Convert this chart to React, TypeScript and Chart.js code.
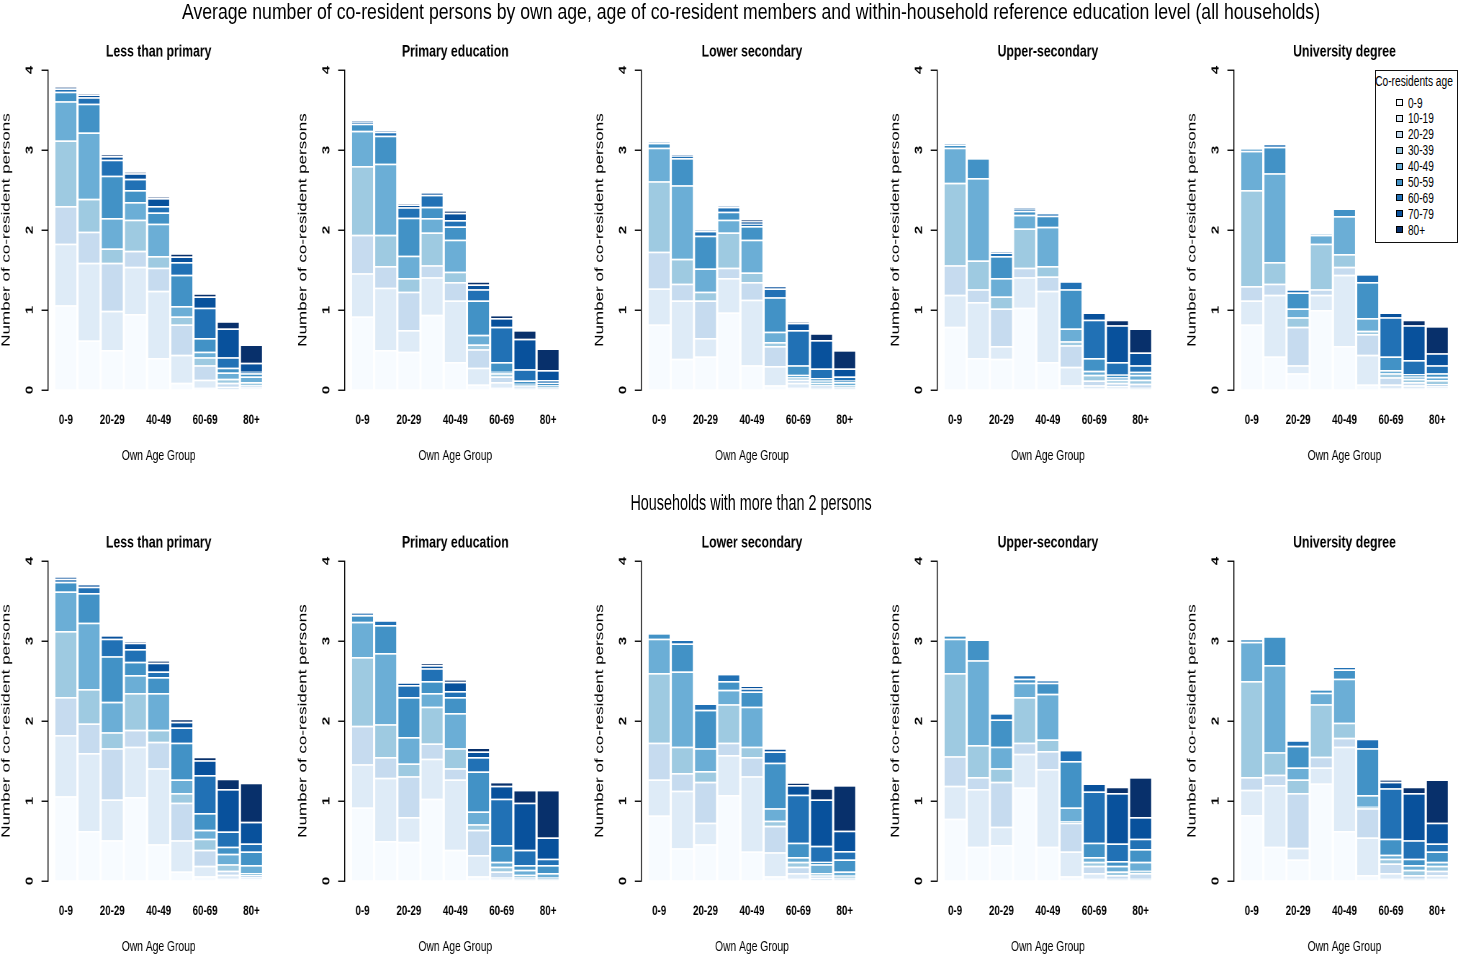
import React, { useEffect, useLayoutEffect, useRef } from 'react';
import { Chart, registerables } from 'chart.js';

Chart.register(...registerables);

const FONT = "'Liberation Sans', Arial, 'DejaVu Sans', sans-serif";
Chart.defaults.font.family = FONT;

// ---------- data ----------
const ownAgeGroups = ['0-9', '10-19', '20-29', '30-39', '40-49', '50-59', '60-69', '70-79', '80+'];
const coResidentAges = ['0-9', '10-19', '20-29', '30-39', '40-49', '50-59', '60-69', '70-79', '80+'];
const educationLevels = ['Less than primary', 'Primary education', 'Lower secondary', 'Upper-secondary', 'University degree'];
const blues = ['#F7FBFF', '#DEEBF7', '#C6DBEF', '#9ECAE1', '#6BAED6', '#4292C6', '#2171B5', '#08519C', '#08306B'];
const yTicks = [0, 1, 2, 3, 4];

const mainTitle = 'Average number of co-resident persons by own age, age of co-resident members and within-household reference education level (all households)';
const subTitle = 'Households with more than 2 persons';
const xTitle = 'Own Age Group';
const yTitle = 'Number of co-resident persons';
const legendTitle = 'Co-residents age';

// each row = one own-age bar; entries = co-resident age groups 0-9 ... 80+
const allLessPrimary = [
  [1.06, 0.77, 0.47, 0.82, 0.49, 0.12, 0.04, 0.01, 0.01],
  [0.62, 0.97, 0.39, 0.41, 0.83, 0.36, 0.08, 0.03, 0.01],
  [0.50, 0.49, 0.60, 0.18, 0.38, 0.53, 0.20, 0.045, 0.015],
  [0.95, 0.59, 0.20, 0.39, 0.22, 0.15, 0.14, 0.07, 0.01],
  [0.40, 0.84, 0.29, 0.145, 0.405, 0.14, 0.08, 0.10, 0.01],
  [0.09, 0.35, 0.38, 0.10, 0.13, 0.39, 0.16, 0.07, 0.04],
  [0.03, 0.10, 0.18, 0.10, 0.07, 0.17, 0.38, 0.14, 0.04],
  [0.01, 0.03, 0.05, 0.05, 0.08, 0.06, 0.13, 0.36, 0.09],
  [0.02, 0.02, 0.02, 0.04, 0.07, 0.04, 0.02, 0.11, 0.23],
];
const allPrimary = [
  [0.92, 0.54, 0.48, 0.86, 0.44, 0.09, 0.02, 0.01, 0.0],
  [0.50, 0.78, 0.27, 0.39, 0.89, 0.35, 0.05, 0.01, 0.0],
  [0.48, 0.27, 0.48, 0.17, 0.28, 0.475, 0.13, 0.03, 0.01],
  [0.94, 0.47, 0.15, 0.41, 0.18, 0.14, 0.15, 0.03, 0.0],
  [0.35, 0.77, 0.23, 0.13, 0.40, 0.165, 0.08, 0.09, 0.03],
  [0.07, 0.21, 0.23, 0.06, 0.12, 0.43, 0.14, 0.06, 0.04],
  [0.03, 0.07, 0.07, 0.04, 0.02, 0.12, 0.44, 0.11, 0.04],
  [0.01, 0.02, 0.02, 0.01, 0.02, 0.04, 0.14, 0.38, 0.11],
  [0.01, 0.01, 0.01, 0.01, 0.02, 0.03, 0.035, 0.125, 0.27],
];
const allLowerSecondary = [
  [0.82, 0.45, 0.46, 0.88, 0.42, 0.06, 0.01, 0.0, 0.0],
  [0.39, 0.73, 0.21, 0.31, 0.92, 0.34, 0.03, 0.01, 0.0],
  [0.42, 0.23, 0.47, 0.11, 0.29, 0.41, 0.06, 0.01, 0.0],
  [0.97, 0.43, 0.13, 0.44, 0.16, 0.10, 0.06, 0.01, 0.0],
  [0.31, 0.82, 0.22, 0.12, 0.41, 0.17, 0.03, 0.03, 0.02],
  [0.06, 0.24, 0.25, 0.05, 0.13, 0.43, 0.11, 0.03, 0.0],
  [0.03, 0.06, 0.04, 0.03, 0.03, 0.12, 0.44, 0.09, 0.01],
  [0.01, 0.02, 0.03, 0.03, 0.03, 0.03, 0.12, 0.355, 0.085],
  [0.01, 0.01, 0.02, 0.02, 0.04, 0.02, 0.05, 0.10, 0.23],
];
const allUpperSecondary = [
  [0.79, 0.40, 0.37, 1.03, 0.44, 0.04, 0.01, 0.0, 0.0],
  [0.40, 0.70, 0.16, 0.36, 1.03, 0.25, 0.0, 0.0, 0.0],
  [0.39, 0.16, 0.47, 0.15, 0.23, 0.275, 0.045, 0.01, 0.0],
  [1.03, 0.38, 0.12, 0.49, 0.17, 0.05, 0.03, 0.01, 0.0],
  [0.35, 0.89, 0.18, 0.13, 0.49, 0.14, 0.03, 0.0, 0.0],
  [0.06, 0.23, 0.27, 0.05, 0.16, 0.49, 0.10, 0.0, 0.0],
  [0.02, 0.04, 0.06, 0.07, 0.05, 0.16, 0.48, 0.09, 0.0],
  [0.02, 0.03, 0.04, 0.04, 0.03, 0.035, 0.155, 0.46, 0.07],
  [0.01, 0.02, 0.05, 0.05, 0.06, 0.04, 0.08, 0.16, 0.30],
];
const allUniversity = [
  [0.82, 0.30, 0.18, 1.20, 0.49, 0.03, 0.0, 0.0, 0.0],
  [0.42, 0.77, 0.14, 0.27, 1.11, 0.33, 0.04, 0.0, 0.0],
  [0.21, 0.10, 0.48, 0.12, 0.11, 0.20, 0.04, 0.0, 0.0],
  [1.00, 0.19, 0.07, 0.57, 0.11, 0.01, 0.0, 0.0, 0.0],
  [0.55, 0.89, 0.10, 0.16, 0.475, 0.095, 0.0, 0.0, 0.0],
  [0.07, 0.37, 0.26, 0.04, 0.16, 0.45, 0.10, 0.0, 0.0],
  [0.02, 0.05, 0.09, 0.05, 0.04, 0.17, 0.49, 0.06, 0.0],
  [0.02, 0.04, 0.04, 0.04, 0.03, 0.03, 0.175, 0.435, 0.07],
  [0.03, 0.02, 0.025, 0.05, 0.04, 0.045, 0.10, 0.15, 0.34],
];

const bigLessPrimary = [
  [1.06, 0.765, 0.475, 0.825, 0.495, 0.12, 0.04, 0.02, 0.0],
  [0.625, 0.975, 0.37, 0.43, 0.83, 0.37, 0.08, 0.03, 0.0],
  [0.51, 0.51, 0.64, 0.20, 0.38, 0.57, 0.22, 0.045, 0.0],
  [1.05, 0.63, 0.21, 0.46, 0.225, 0.165, 0.16, 0.08, 0.01],
  [0.46, 0.95, 0.33, 0.15, 0.46, 0.20, 0.07, 0.11, 0.025],
  [0.12, 0.39, 0.47, 0.12, 0.17, 0.46, 0.19, 0.07, 0.04],
  [0.06, 0.13, 0.20, 0.14, 0.11, 0.21, 0.475, 0.185, 0.045],
  [0.03, 0.05, 0.05, 0.08, 0.13, 0.09, 0.19, 0.53, 0.13],
  [0.03, 0.02, 0.025, 0.025, 0.10, 0.17, 0.10, 0.27, 0.49],
];
const bigPrimary = [
  [0.92, 0.54, 0.48, 0.86, 0.44, 0.085, 0.02, 0.01, 0.0],
  [0.50, 0.79, 0.26, 0.41, 0.89, 0.35, 0.06, 0.0, 0.0],
  [0.49, 0.31, 0.51, 0.16, 0.33, 0.50, 0.15, 0.03, 0.0],
  [1.03, 0.50, 0.19, 0.46, 0.17, 0.15, 0.16, 0.04, 0.02],
  [0.39, 0.88, 0.14, 0.25, 0.44, 0.20, 0.075, 0.115, 0.03],
  [0.06, 0.265, 0.315, 0.07, 0.16, 0.50, 0.18, 0.07, 0.05],
  [0.02, 0.025, 0.075, 0.06, 0.06, 0.21, 0.58, 0.16, 0.05],
  [0.01, 0.02, 0.015, 0.035, 0.06, 0.06, 0.19, 0.59, 0.16],
  [0.01, 0.01, 0.01, 0.015, 0.055, 0.10, 0.08, 0.265, 0.595],
];
const bigLowerSecondary = [
  [0.82, 0.45, 0.46, 0.87, 0.43, 0.07, 0.0, 0.0, 0.0],
  [0.41, 0.72, 0.22, 0.33, 0.94, 0.35, 0.05, 0.0, 0.0],
  [0.46, 0.27, 0.51, 0.135, 0.285, 0.48, 0.08, 0.0, 0.0],
  [1.075, 0.50, 0.155, 0.48, 0.18, 0.11, 0.09, 0.0, 0.0],
  [0.37, 0.94, 0.24, 0.13, 0.50, 0.19, 0.04, 0.03, 0.0],
  [0.06, 0.30, 0.33, 0.065, 0.155, 0.57, 0.14, 0.04, 0.0],
  [0.03, 0.07, 0.08, 0.06, 0.06, 0.18, 0.60, 0.12, 0.03],
  [0.01, 0.03, 0.03, 0.03, 0.11, 0.03, 0.20, 0.58, 0.14],
  [0.01, 0.01, 0.02, 0.03, 0.05, 0.15, 0.105, 0.255, 0.57],
];
const bigUpperSecondary = [
  [0.78, 0.41, 0.37, 1.04, 0.43, 0.045, 0.0, 0.0, 0.0],
  [0.43, 0.72, 0.15, 0.40, 1.06, 0.26, 0.0, 0.0, 0.0],
  [0.45, 0.23, 0.56, 0.17, 0.27, 0.34, 0.08, 0.0, 0.0],
  [1.17, 0.42, 0.14, 0.57, 0.18, 0.05, 0.05, 0.0, 0.0],
  [0.43, 0.97, 0.225, 0.145, 0.57, 0.14, 0.03, 0.0, 0.0],
  [0.06, 0.31, 0.36, 0.02, 0.17, 0.58, 0.14, 0.0, 0.0],
  [0.03, 0.07, 0.09, 0.05, 0.06, 0.18, 0.64, 0.10, 0.0],
  [0.01, 0.02, 0.045, 0.045, 0.07, 0.06, 0.22, 0.63, 0.08],
  [0.01, 0.02, 0.07, 0.03, 0.11, 0.16, 0.13, 0.27, 0.50],
];
const bigUniversity = [
  [0.825, 0.315, 0.16, 1.20, 0.49, 0.04, 0.0, 0.0, 0.0],
  [0.43, 0.77, 0.13, 0.28, 1.09, 0.36, 0.0, 0.0, 0.0],
  [0.27, 0.145, 0.685, 0.17, 0.15, 0.27, 0.07, 0.0, 0.0],
  [1.22, 0.20, 0.135, 0.655, 0.145, 0.045, 0.0, 0.0, 0.0],
  [0.625, 1.055, 0.11, 0.19, 0.55, 0.115, 0.035, 0.0, 0.0],
  [0.075, 0.47, 0.365, 0.02, 0.145, 0.585, 0.12, 0.0, 0.0],
  [0.03, 0.07, 0.12, 0.06, 0.05, 0.20, 0.63, 0.08, 0.03],
  [0.01, 0.02, 0.045, 0.065, 0.06, 0.08, 0.23, 0.59, 0.08],
  [0.03, 0.045, 0.055, 0.06, 0.05, 0.13, 0.10, 0.26, 0.54],
];

const allHouseholds = [allLessPrimary, allPrimary, allLowerSecondary, allUpperSecondary, allUniversity];
const bigHouseholds = [bigLessPrimary, bigPrimary, bigLowerSecondary, bigUpperSecondary, bigUniversity];

// ---------- layout (unsqueezed canvas coordinates; whole figure is squeezed horizontally) ----------
const SQ = 0.72;
const PANEL_STEP = 296.5 / SQ;
const CANVAS_W = 411;
const CANVAS_H = 440;
const AXIS_W = 48 / SQ;
const PLOT_W = 307.4;
const ROW_TOPS = [30, 521];

function Panel({ title, bars, left, top }: { title: string; bars: number[][]; left: number; top: number }) {
  const ref = useRef<HTMLCanvasElement>(null);
  useEffect(() => {
    if (!ref.current) return;
    const chart = new Chart(ref.current, {
      type: 'bar',
      data: {
        datasets: coResidentAges.map((age, k) => ({
          label: age,
          data: bars.map((b, i) => ({ x: i, y: b[k] })),
          backgroundColor: blues[k],
          borderColor: '#ffffff',
          borderWidth: { top: 1.6, left: 1, right: 1, bottom: 0 },
          categoryPercentage: 1,
          barPercentage: 0.965,
        })),
      },
      options: {
        responsive: false,
        animation: false,
        devicePixelRatio: 2,
        layout: { padding: { left: 0, right: CANVAS_W - AXIS_W - PLOT_W, top: 0, bottom: 0 } },
        plugins: {
          legend: { display: false },
          tooltip: { enabled: false },
          title: {
            display: true,
            text: title,
            fullSize: false,
            color: '#000',
            font: { family: FONT, size: 17, weight: 'bold', lineHeight: 1.2 },
            padding: { top: 11.8, bottom: 7.8 },
          },
        },
        scales: {
          x: {
            type: 'linear',
            offset: false,
            stacked: true,
            min: -0.77,
            max: 8.77,
            afterBuildTicks: (s: any) => {
              s.ticks = ownAgeGroups.map((_, i) => ({ value: i }));
            },
            afterFit: (s: any) => {
              s.height = 80;
            },
            grid: { display: false, drawTicks: false },
            border: { display: false },
            ticks: {
              autoSkip: false,
              minRotation: 0,
              maxRotation: 0,
              padding: 22,
              color: '#000',
              font: { family: FONT, size: 13.5, weight: 'bold' },
              callback: (v: any) => {
                const i = Math.round(Number(v));
                return i % 2 === 0 ? ownAgeGroups[i] : '';
              },
            },
            title: {
              display: true,
              text: xTitle,
              color: '#000',
              font: { family: FONT, size: 14.3, lineHeight: 1.2 },
              padding: { top: 0, bottom: 5.4 },
            },
          },
          y: {
            type: 'linear',
            stacked: true,
            min: 0,
            max: 4,
            afterBuildTicks: (s: any) => {
              s.ticks = yTicks.map((v) => ({ value: v }));
            },
            afterFit: (s: any) => {
              s.width = AXIS_W;
            },
            ticks: {
              color: '#000',
              font: { family: FONT, size: 15, weight: 'bold' },
              padding: 12,
              minRotation: 90,
              maxRotation: 90,
              crossAlign: 'center',
            },
            grid: { display: true, drawOnChartArea: false, drawTicks: true, tickLength: 9, color: '#000', lineWidth: 1.4 },
            border: { display: true, color: '#000', width: 1.4 },
            title: {
              display: true,
              text: yTitle,
              color: '#000',
              font: { family: FONT, size: 17, lineHeight: 1.06 },
              padding: 0,
            },
          },
        },
      } as any,
    });
    return () => chart.destroy();
  }, [title, bars]);
  return <canvas ref={ref} width={CANVAS_W} height={CANVAS_H} style={{ position: 'absolute', left, top }} />;
}

function FitText({ text, cx, cy, width, size, weight = 'normal' }: { text: string; cx: number; cy: number; width: number; size: number; weight?: string }) {
  const ref = useRef<HTMLDivElement>(null);
  useLayoutEffect(() => {
    const el = ref.current;
    if (!el) return;
    const w = el.offsetWidth || 1;
    el.style.transform = `translate(-50%, -50%) scaleX(${width / w})`;
  }, [text, width]);
  return (
    <div
      ref={ref}
      style={{
        position: 'absolute',
        left: cx,
        top: cy,
        width: 'max-content',
        whiteSpace: 'nowrap',
        fontFamily: FONT,
        fontSize: size,
        fontWeight: weight as any,
        lineHeight: 1,
        color: '#000',
        transform: 'translate(-50%, -50%)',
        transformOrigin: '50% 50%',
      }}
    >
      {text}
    </div>
  );
}

function Legend() {
  const B = 1.5;
  return (
    <div
      style={{
        position: 'absolute',
        left: 1375,
        top: 70,
        width: 83,
        height: 173,
        border: `${B}px solid #111`,
        boxSizing: 'border-box',
        background: '#fff',
      }}
    >
      <FitText text={legendTitle} cx={39.5 - B} cy={11.7 - B} width={78} size={14} />
      {coResidentAges.map((a, k) => {
        const cy = 33 + 15.9 * k - B;
        return (
          <React.Fragment key={a}>
            <div
              style={{
                position: 'absolute',
                left: 21.7 - B,
                top: cy - 3.5,
                width: 7,
                height: 7,
                boxSizing: 'border-box',
                border: '1px solid #000',
                background: blues[k],
              }}
            />
            <div
              style={{
                position: 'absolute',
                left: 33.3 - B,
                top: cy - 7,
                whiteSpace: 'nowrap',
                fontFamily: FONT,
                fontSize: 14,
                lineHeight: '14px',
                color: '#000',
                transform: 'scaleX(0.72)',
                transformOrigin: '0 50%',
              }}
            >
              {a}
            </div>
          </React.Fragment>
        );
      })}
    </div>
  );
}

export default function App() {
  return (
    <div style={{ position: 'absolute', left: 0, top: 0, width: 1458, height: 956, overflow: 'hidden', background: '#fff' }}>
      <div
        style={{
          position: 'absolute',
          left: 0,
          top: 0,
          width: 1458 / SQ,
          height: 956,
          transform: `scaleX(${SQ})`,
          transformOrigin: '0 0',
        }}
      >
        {allHouseholds.map((bars, i) => (
          <Panel key={'all' + i} title={educationLevels[i]} bars={bars} left={i * PANEL_STEP} top={ROW_TOPS[0]} />
        ))}
        {bigHouseholds.map((bars, i) => (
          <Panel key={'big' + i} title={educationLevels[i]} bars={bars} left={i * PANEL_STEP} top={ROW_TOPS[1]} />
        ))}
      </div>
      <FitText text={mainTitle} cx={751} cy={12} width={1138} size={22} />
      <FitText text={subTitle} cx={750.5} cy={503} width={241} size={22} />
      <Legend />
    </div>
  );
}
